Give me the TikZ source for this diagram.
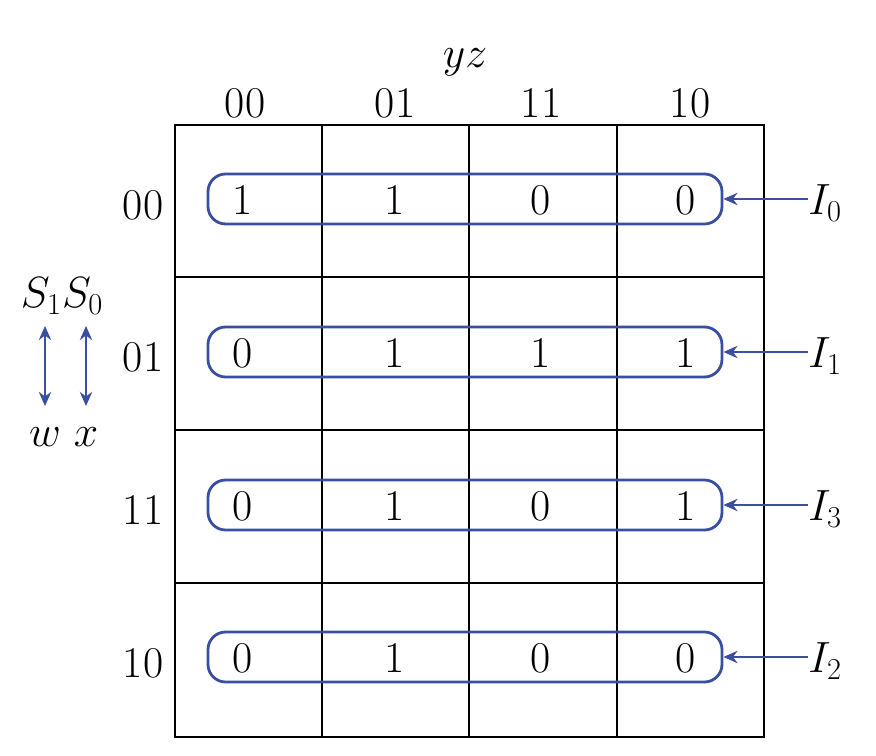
\documentclass[tikz,border=0pt]{standalone}
\usetikzlibrary{arrows.meta,positioning}
\definecolor{muxblue}{HTML}{3B4FA0}

\begin{document}
\begin{tikzpicture}[x=0.02cm, y=-0.02cm,
  lbl/.style={inner sep=0pt, font=\fontsize{25}{28}\selectfont},
  grp/.style={rectangle, rounded corners=10pt, draw=muxblue, line width=1.6pt, minimum width=514*0.02cm, minimum height=50*0.02cm, inner sep=0pt},
  arr/.style={-{Stealth[length=8pt,width=7pt]}, muxblue, line width=1.4pt},
  sel/.style={{Stealth[length=8pt,width=7pt]}-{Stealth[length=8pt,width=7pt]}, muxblue, line width=1.6pt}
]
  \useasboundingbox (0,0) rectangle (876,756);
  % map grid
  \draw[line width=1.3pt] (175,125) rectangle (764,737);
  \foreach \gx in {322,469,617} \draw[line width=1.3pt] (\gx,125) -- (\gx,737);
  \foreach \gy in {277,430,583} \draw[line width=1.3pt] (175,\gy) -- (764,\gy);
  % headings
  \node[lbl] (yz) at (465,62) {$yz$};
  \node[lbl] (c00) at (245,103) {00};
  \node[lbl] (c01) at (395,103) {01};
  \node[lbl] (c11) at (541,103) {11};
  \node[lbl] (c10) at (690,103) {10};
  \node[lbl] (r00) at (143,205) {00};
  \node[lbl] (r01) at (143,357) {01};
  \node[lbl] (r11) at (143,510) {11};
  \node[lbl] (r10) at (143,663) {10};
  % select lines
  \node[lbl] (sel) at (62,296) {$S_1S_0$};
  \node[lbl] (w) at (45,437) {$w$};
  \node[lbl] (x) at (86,437) {$x$};
  \coordinate (s1top) at (45,326);
  \coordinate (s0top) at (86,326);
  \coordinate (s1bot) at (45,406);
  \coordinate (s0bot) at (86,406);
  \draw[sel] (s1top) -- (s1bot);
  \draw[sel] (s0top) -- (s0bot);
  % rows as multiplexer inputs
  \foreach \r/\ry/\i/\a/\b/\c/\d in {0/199/0/1/1/0/0, 1/352/1/0/1/1/1, 2/505/3/0/1/0/1, 3/657/2/0/1/0/0}{
    \node[grp] (box\r) at (465,\ry) {};
    \node[lbl] (v\r a) at (243,\ry+1) {\a};
    \node[lbl] (v\r b) at (395,\ry+1) {\b};
    \node[lbl] (v\r c) at (541,\ry+1) {\c};
    \node[lbl] (v\r d) at (686,\ry+1) {\d};
    \node[lbl, anchor=west] (in\r) at (808,\ry+4) {$I_{\i}$};
    \draw[arr] (in\r.west |- box\r.east) -- (box\r.east);
  }
\end{tikzpicture}
\end{document}
